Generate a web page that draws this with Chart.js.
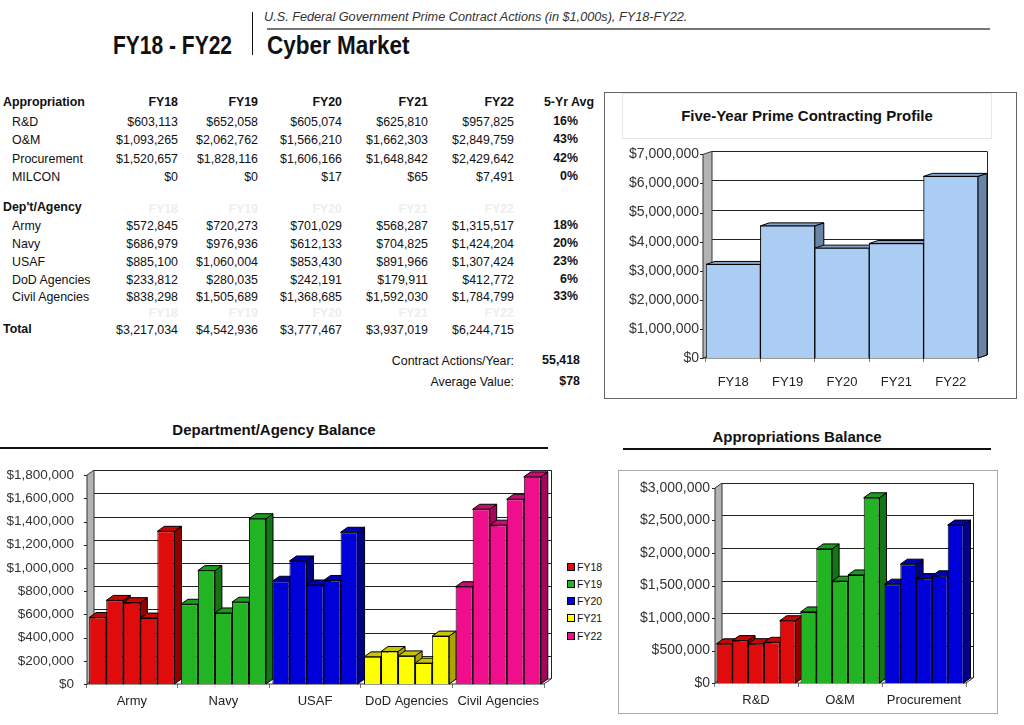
<!DOCTYPE html>
<html>
<head>
<meta charset="utf-8">
<title>FY18 - FY22 Cyber Market</title>
<script src="https://cdn.jsdelivr.net/npm/chart.js"></script>
<style>
  body { margin:0; width:1024px; height:725px; background:#fff; position:relative; overflow:hidden;
         font-family:"Liberation Sans", Arial, sans-serif; color:#111; }
  .t { position:absolute; white-space:nowrap; font-size:12.4px; line-height:14px; }
  .r { text-align:right; width:200px; }
  .b { font-weight:bold; }
  .ghost { color:#eeeeee; font-weight:bold; }
  .head { position:absolute; white-space:nowrap; font-weight:bold; font-size:25px; line-height:25px; transform-origin:0 0; }
  .title { position:absolute; font-weight:bold; font-size:15px; text-align:center; white-space:nowrap; }
  .rule { position:absolute; background:#111; }
  canvas { position:absolute; }
  #legend div { position:absolute; font-size:10.5px; line-height:12px; left:567px; }
  #legend span { display:inline-block; width:6px; height:6px; border:1px solid #000; margin-right:2px; vertical-align:0px; }
</style>
</head>
<body>
  <div class="head" style="left:113px;top:33px;transform:scaleX(0.84);">FY18 - FY22</div>
  <div class="rule" style="left:252px;top:12px;width:1px;height:43px;"></div>
  <div class="t" style="left:264px;top:10px;font-size:12.7px;font-style:italic;color:#333;">U.S. Federal Government Prime Contract Actions (in $1,000s), FY18-FY22.</div>
  <div class="rule" style="left:267px;top:28px;width:723px;height:2px;background:#777;"></div>
  <div class="head" style="left:267px;top:33px;transform:scaleX(0.9);">Cyber Market</div>

  <div id="table"></div>

  <div style="position:absolute;left:604px;top:92px;width:411px;height:305px;border:1px solid #666;"></div>
  <div class="title" style="left:622px;top:93px;width:368px;height:44px;line-height:44px;border:1px solid #e6e6e6;">Five-Year Prime Contracting Profile</div>
  <canvas id="profile" width="412" height="258" style="left:604px;top:139px;"></canvas>

  <div class="title" style="left:0;top:421px;width:548px;">Department/Agency Balance</div>
  <div class="rule" style="left:0;top:447px;width:548px;height:2px;"></div>
  <canvas id="agency" width="560" height="268" style="left:0;top:455px;"></canvas>
  <div id="legend"></div>

  <div class="title" style="left:613px;top:428px;width:368px;">Appropriations Balance</div>
  <div class="rule" style="left:623px;top:448px;width:368px;height:2px;"></div>
  <div style="position:absolute;left:618px;top:470px;width:378px;height:242px;border:1px solid #aaa;"></div>
  <canvas id="approp" width="378" height="243" style="left:618px;top:470px;"></canvas>

<script>
// ---- data (in $1,000s) ----
var years = ["FY18", "FY19", "FY20", "FY21", "FY22"];

var approNames = ["R&D", "O&M", "Procurement", "MILCON"];
var rd      = [603113, 652058, 605074, 625810, 957825];
var om      = [1093265, 2062762, 1566210, 1662303, 2849759];
var proc    = [1520657, 1828116, 1606166, 1648842, 2429642];
var milcon  = [0, 0, 17, 65, 7491];
var approAvg = ["16%", "43%", "42%", "0%"];

var agencyNames = ["Army", "Navy", "USAF", "DoD Agencies", "Civil Agencies"];
var army  = [572845, 720273, 701029, 568287, 1315517];
var navy  = [686979, 976936, 612133, 704825, 1424204];
var usaf  = [885100, 1060004, 853430, 891966, 1307424];
var dod   = [233812, 280035, 242191, 179911, 412772];
var civil = [838298, 1505689, 1368685, 1592030, 1784799];
var agencyAvg = ["18%", "20%", "23%", "6%", "33%"];

var totals = [3217034, 4542936, 3777467, 3937019, 6244715];
var contractActions = "55,418";
var averageValue = "$78";

// colours (front, top, side) by category
var fronts = ["#e00b0b", "#22b422", "#0000d8", "#ffff00", "#ef0f8c"];
var tops   = ["#c40808", "#1c9a1c", "#0000b0", "#c8c400", "#c40c72"];
var sides  = ["#920000", "#157415", "#00008a", "#a8a400", "#a0065c"];

// ---- table ----
var table = document.getElementById("table");
var colRight = [178, 258, 342, 428, 514];
var avgRight = 578;
function money(v) { return "$" + v.toLocaleString("en-US"); }
function put(text, x, y, cls, right) {
  var d = document.createElement("div");
  d.className = "t " + (cls || "") + (right ? " r" : "");
  d.textContent = text;
  d.style.left = (right ? x - 200 : x) + "px";
  d.style.top = (y - 7) + "px";
  table.appendChild(d);
}

put("Appropriation", 3, 102, "b");
years.forEach(function (y, i) { put(y, colRight[i], 102, "b", true); });
put("5-Yr Avg", 594, 102, "b", true);

var approRows = [rd, om, proc, milcon];
var approY = [122, 140, 159, 177];
approRows.forEach(function (row, r) {
  put(approNames[r], 12, approY[r]);
  row.forEach(function (v, i) { put(money(v), colRight[i], approY[r], "", true); });
  put(approAvg[r], avgRight, approY[r] - 1, "b", true);
});

put("Dep't/Agency", 3, 207, "b");
years.forEach(function (y, i) { put(y, colRight[i], 209, "ghost", true); });
var agencyRows = [army, navy, usaf, dod, civil];
var agencyY = [226, 244, 262, 280, 297];
agencyRows.forEach(function (row, r) {
  put(agencyNames[r], 12, agencyY[r]);
  row.forEach(function (v, i) { put(money(v), colRight[i], agencyY[r], "", true); });
  put(agencyAvg[r], avgRight, agencyY[r] - 1, "b", true);
});
years.forEach(function (y, i) { put(y, colRight[i], 313, "ghost", true); });

put("Total", 3, 329, "b");
totals.forEach(function (v, i) { put(money(v), colRight[i], 330, "", true); });
put("Contract Actions/Year:", 514, 361, "", true);
put(contractActions, 580, 360, "b", true);
put("Average Value:", 514, 382, "", true);
put(averageValue, 580, 381, "b", true);

// ---- legend for the agency chart ----
var legend = document.getElementById("legend");
var legendY = [567, 584, 601, 618, 636];
years.forEach(function (y, i) {
  var d = document.createElement("div");
  d.style.top = (legendY[i] - 6) + "px";
  d.innerHTML = '<span style="background:' + fronts[i] + '"></span>' + y;
  legend.appendChild(d);
});

// ---- 3D look: back wall, side wall, floor, bar tops and sides ----
var fake3d = {
  id: "fake3d",
  beforeDatasetsDraw: function (chart, args, o) {
    var ctx = chart.ctx, a = chart.chartArea, ys = chart.scales.y;
    var dx = o.dx, dy = o.dy, wx = a.left + o.wall;
    var y0 = ys.getPixelForValue(0), yTop = ys.getPixelForValue(ys.max);
    function poly(pts, fill, stroke) {
      ctx.beginPath();
      ctx.moveTo(pts[0][0], pts[0][1]);
      for (var k = 1; k < pts.length; k++) ctx.lineTo(pts[k][0], pts[k][1]);
      ctx.closePath();
      if (fill) { ctx.fillStyle = fill; ctx.fill(); }
      if (stroke) { ctx.strokeStyle = stroke; ctx.stroke(); }
    }
    ctx.save();
    ctx.lineWidth = 1;
    ctx.strokeStyle = o.grid;
    ys.ticks.forEach(function (t) {
      var py = Math.round(ys.getPixelForValue(t.value) - dy) + 0.5;
      ctx.beginPath(); ctx.moveTo(wx + dx, py); ctx.lineTo(a.right + dx, py); ctx.stroke();
      var fy = Math.round(ys.getPixelForValue(t.value)) + 0.5;
      ctx.beginPath(); ctx.moveTo(wx - 3, fy); ctx.lineTo(wx, fy); ctx.stroke();
    });
    ctx.beginPath(); ctx.moveTo(a.right + dx + 0.5, yTop - dy); ctx.lineTo(a.right + dx + 0.5, y0 - dy); ctx.stroke();
    poly([[wx, yTop], [wx + dx, yTop - dy], [wx + dx, y0 - dy], [wx, y0]], "#b3b3b3", "#333");
    poly([[wx, y0], [wx + dx, y0 - dy], [a.right + dx, y0 - dy], [a.right, y0]], "#fff", "#333");

    var bars = [];
    chart.data.datasets.forEach(function (ds, di) {
      chart.getDatasetMeta(di).data.forEach(function (el, i) {
        bars.push({ el: el, side: ds.sideColor[i], top: ds.topColor[i] });
      });
    });
    bars.sort(function (p, q) { return p.el.x - q.el.x; });
    bars.forEach(function (b) {
      var p = b.el.getProps(["x", "y", "width", "base"], true);
      var l = p.x - p.width / 2, r = p.x + p.width / 2;
      poly([[r, p.y], [r + dx, p.y - dy], [r + dx, p.base - dy], [r, p.base]], b.side, "#000");
      poly([[l, p.y], [l + dx, p.y - dy], [r + dx, p.y - dy], [r, p.y]], b.top, "#000");
    });
    ctx.restore();
  }
};

function moneyTick(v) { return "$" + v.toLocaleString("en-US"); }

function barChart(id, labels, datasets, cfg) {
  var ctx = document.getElementById(id).getContext("2d");
  return new Chart(ctx, {
    type: "bar",
    data: { labels: labels, datasets: datasets },
    plugins: [fake3d],
    options: {
      responsive: false,
      animation: false,
      layout: { padding: { top: cfg.padTop, right: cfg.padRight, left: 0, bottom: 0 } },
      plugins: {
        legend: { display: false },
        tooltip: { enabled: false },
        fake3d: { dx: cfg.dx, dy: cfg.dy, wall: cfg.wall, grid: "#222" }
      },
      scales: {
        x: {
          grid: { display: true, drawOnChartArea: false, drawTicks: true, tickLength: 4, color: "#777" },
          border: { display: false },
          ticks: { color: "#222", padding: cfg.xPad, font: { family: "Liberation Sans", size: 13 } },
          afterFit: function (s) { s.height = cfg.xHeight; }
        },
        y: {
          min: 0, max: cfg.max,
          grid: { display: false, drawTicks: false },
          border: { display: false },
          ticks: { stepSize: cfg.step, color: "#333", padding: cfg.yPad,
                   font: { family: "Liberation Sans", size: cfg.yFont }, callback: moneyTick },
          afterFit: function (s) { s.width = cfg.yWidth; }
        }
      }
    }
  });
}

// five-year profile
barChart("profile", years, [{
  label: "Total",
  data: totals,
  backgroundColor: "#abcdf3",
  borderColor: "#000",
  borderWidth: 1,
  topColor: years.map(function () { return "#86a4ca"; }),
  sideColor: years.map(function () { return "#6a84a6"; }),
  barPercentage: 1, categoryPercentage: 1
}], { max: 7000000, step: 1000000, dx: 9, dy: 3, wall: -3, padTop: 9, padRight: 38,
      yWidth: 102, yPad: 7, yFont: 14, xHeight: 39, xPad: 13 });

// department / agency balance: one dataset per year, coloured by agency
var agencyCats = [army, navy, usaf, dod, civil];
barChart("agency", agencyNames, years.map(function (y, j) {
  return {
    label: y,
    data: agencyCats.map(function (row) { return row[j]; }),
    backgroundColor: fronts, topColor: tops, sideColor: sides,
    borderColor: "#000", borderWidth: 1,
    barPercentage: 1, categoryPercentage: 0.93
  };
}), { max: 1800000, step: 200000, dx: 7, dy: 5, wall: 1, padTop: 16, padRight: 16,
      yWidth: 86, yPad: 12, yFont: 13.5, xHeight: 39, xPad: 6 });

// appropriations balance
var approCats = [rd, om, proc];
barChart("approp", approNames.slice(0, 3), years.map(function (y, j) {
  return {
    label: y,
    data: approCats.map(function (row) { return row[j]; }),
    backgroundColor: fronts.slice(0, 3), topColor: tops.slice(0, 3), sideColor: sides.slice(0, 3),
    borderColor: "#000", borderWidth: 1,
    barPercentage: 1, categoryPercentage: 0.94
  };
}), { max: 3000000, step: 500000, dx: 7, dy: 5, wall: 1, padTop: 18, padRight: 30,
      yWidth: 96, yPad: 4, yFont: 14, xHeight: 30, xPad: 6 });
</script>
</body>
</html>
